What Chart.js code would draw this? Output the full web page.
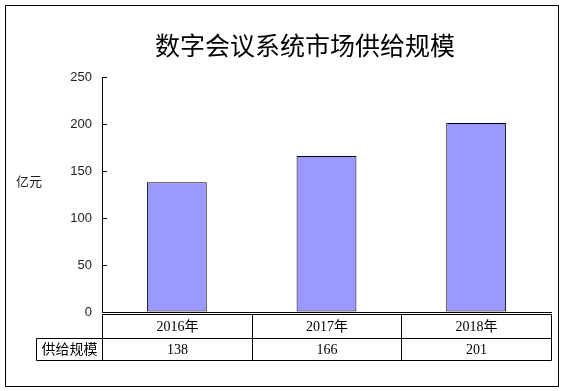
<!DOCTYPE html>
<html>
<head>
<meta charset="utf-8">
<script src="https://cdn.jsdelivr.net/npm/chart.js@4"></script>
<style>
  html, body { margin: 0; padding: 0; background: #fff; }
  #wrap { width: 562px; height: 391px; position: relative; }
</style>
</head>
<body>
<div id="wrap"><canvas id="c" width="562" height="391"></canvas></div>
<script>
const chartTitle = '数字会议系统市场供给规模';
const yAxisTitle = '亿元';
const categories = ['2016年', '2017年', '2018年'];
const seriesName = '供给规模';
const seriesValues = [138, 166, 201];
const yMin = 0;
const yMax = 250;
const yStep = 50;

const CJK = '"Noto Sans CJK SC", "Liberation Sans", sans-serif';
const TABLE_FONT = '14px "Liberation Serif", "Noto Sans CJK SC", serif';

const decorPlugin = {
  id: 'decor',
  afterDraw(chart) {
    const ctx = chart.ctx;
    const area = chart.chartArea;
    const xs = chart.scales.x;
    const ys = chart.scales.y;
    ctx.save();
    // outer border
    ctx.strokeStyle = '#000';
    ctx.lineWidth = 1;
    ctx.strokeRect(5.5, 5.5, 553, 381);

    // title
    ctx.fillStyle = '#000';
    ctx.font = '25px ' + CJK;
    ctx.textAlign = 'center';
    ctx.textBaseline = 'middle';
    ctx.fillText(chartTitle, 305, 45);

    // y axis title (horizontal)
    ctx.font = '13px ' + CJK;
    ctx.fillStyle = '#222';
    ctx.textAlign = 'left';
    ctx.fillText(yAxisTitle, 16, 181);

    // inner tick marks on y axis
    ctx.strokeStyle = '#000';
    ctx.beginPath();
    ys.ticks.forEach(t => {
      const py = Math.round(ys.getPixelForValue(t.value)) + 0.5;
      ctx.moveTo(area.left, py);
      ctx.lineTo(area.left + 5, py);
    });
    ctx.stroke();

    // data table
    const n = categories.length;
    const bounds = [];
    for (let i = 0; i <= n; i++) {
      let px;
      if (i === 0) px = area.left;
      else if (i === n) px = area.right;
      else px = (xs.getPixelForValue(i - 1) + xs.getPixelForValue(i)) / 2;
      bounds.push(Math.round(px) + 0.5);
    }
    const top = area.bottom + 2.5;
    const mid = area.bottom + 26.5;
    const bot = area.bottom + 48.5;
    const headLeft = 36.5;
    ctx.beginPath();
    ctx.moveTo(bounds[0], top); ctx.lineTo(bounds[n], top);
    ctx.moveTo(headLeft, mid); ctx.lineTo(bounds[n], mid);
    ctx.moveTo(headLeft, bot); ctx.lineTo(bounds[n], bot);
    bounds.forEach(b => { ctx.moveTo(b, top); ctx.lineTo(b, bot); });
    ctx.moveTo(headLeft, mid); ctx.lineTo(headLeft, bot);
    ctx.stroke();

    ctx.font = TABLE_FONT;
    ctx.fillStyle = '#000';
    ctx.textAlign = 'center';
    ctx.textBaseline = 'middle';
    for (let i = 0; i < n; i++) {
      const cx = (bounds[i] + bounds[i + 1]) / 2;
      ctx.fillText(categories[i], cx, (top + mid) / 2 + 1);
      ctx.fillText(String(seriesValues[i]), cx, (mid + bot) / 2 + 1);
    }
    ctx.fillText(seriesName, (headLeft + bounds[0]) / 2, (mid + bot) / 2 + 1);
    ctx.restore();
  }
};

new Chart(document.getElementById('c'), {
  type: 'bar',
  data: {
    labels: categories,
    datasets: [{
      label: seriesName,
      data: seriesValues,
      backgroundColor: '#9999FF',
      borderColor: '#000',
      borderWidth: 1,
      borderSkipped: false,
      barPercentage: 0.4,
      categoryPercentage: 1.0
    }]
  },
  options: {
    responsive: false,
    animation: false,
    events: [],
    layout: { padding: { left: 0, right: 11, top: 77, bottom: 79 } },
    plugins: { legend: { display: false }, title: { display: false }, tooltip: { enabled: false } },
    scales: {
      x: {
        display: true,
        offset: true,
        ticks: { display: false },
        grid: { display: false, drawTicks: false },
        border: { display: true, color: '#000', width: 1 }
      },
      y: {
        min: yMin,
        max: yMax,
        ticks: { stepSize: yStep, padding: 10, color: '#222', font: { family: 'Liberation Sans', size: 13 } },
        grid: { drawOnChartArea: false, drawTicks: false },
        border: { display: true, color: '#000', width: 1 },
        afterFit(scale) { scale.width = 102; }
      }
    }
  },
  plugins: [decorPlugin]
});
</script>
</body>
</html>
